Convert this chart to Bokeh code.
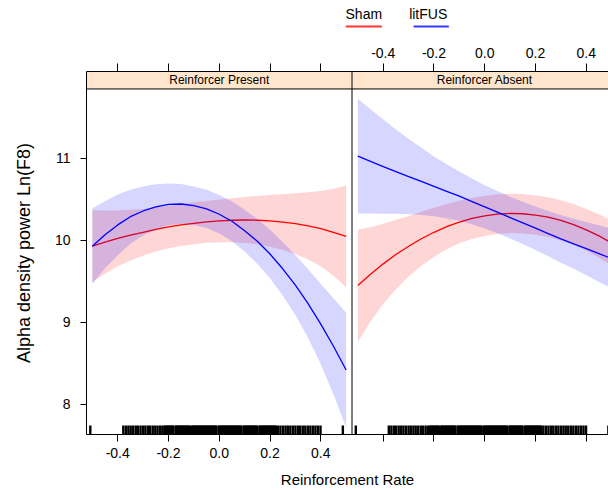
from bokeh.plotting import figure
from bokeh.layouts import column
from bokeh.models import (Range1d, LinearAxis, FixedTicker, CustomJSTickFormatter,
                          Span, BoxAnnotation, Label)
from bokeh.core.properties import value
from bokeh.embed import file_html
from bokeh.resources import INLINE

# ---------------- data ----------------
rate = [-0.5, -0.45, -0.4, -0.35, -0.3, -0.25, -0.2, -0.15, -0.1, -0.05, 0.0,
        0.05, 0.1, 0.15, 0.2, 0.25, 0.3, 0.35, 0.4, 0.45, 0.5]

# Reinforcer Present
present_sham_fit = [9.93, 9.98, 10.025, 10.065, 10.10, 10.135, 10.165, 10.19, 10.21, 10.227, 10.24,
                    10.247, 10.25, 10.247, 10.24, 10.225, 10.205, 10.178, 10.145, 10.10, 10.05]
present_sham_lower = [9.49, 9.595, 9.685, 9.755, 9.815, 9.865, 9.905, 9.934, 9.955, 9.971, 9.98,
                      9.979, 9.97, 9.951, 9.925, 9.885, 9.835, 9.768, 9.685, 9.57, 9.43]
present_sham_upper = [10.37, 10.365, 10.365, 10.375, 10.385, 10.405, 10.425, 10.446, 10.465, 10.483, 10.50,
                      10.515, 10.53, 10.543, 10.555, 10.565, 10.575, 10.588, 10.605, 10.63, 10.67]

present_litfus_fit = [9.93, 10.07, 10.19, 10.29, 10.36, 10.41, 10.44, 10.445, 10.425, 10.385, 10.32,
                      10.235, 10.12, 9.99, 9.835, 9.655, 9.455, 9.23, 8.98, 8.71, 8.42]
present_litfus_lower = [9.47, 9.66, 9.82, 9.96, 10.06, 10.135, 10.185, 10.202, 10.19, 10.152, 10.085,
                        9.992, 9.865, 9.717, 9.54, 9.328, 9.09, 8.81, 8.49, 8.125, 7.72]
present_litfus_upper = [10.39, 10.48, 10.56, 10.62, 10.66, 10.685, 10.695, 10.688, 10.66, 10.618, 10.555,
                        10.478, 10.375, 10.263, 10.13, 9.982, 9.82, 9.65, 9.47, 9.295, 9.12]

# Reinforcer Absent
absent_sham_fit = [9.45, 9.588, 9.715, 9.829, 9.93, 10.021, 10.10, 10.169, 10.225, 10.269, 10.30,
                   10.321, 10.33, 10.326, 10.31, 10.284, 10.245, 10.194, 10.13, 10.056, 9.97]
absent_sham_lower = [8.765, 9.013, 9.225, 9.404, 9.56, 9.691, 9.80, 9.892, 9.965, 10.019, 10.055,
                     10.079, 10.09, 10.086, 10.07, 10.042, 10.0, 9.944, 9.875, 9.793, 9.695]
absent_sham_upper = [10.135, 10.163, 10.205, 10.254, 10.30, 10.351, 10.40, 10.446, 10.485, 10.519, 10.545,
                     10.563, 10.57, 10.566, 10.55, 10.526, 10.49, 10.444, 10.385, 10.319, 10.245]

absent_litfus_fit = [11.03, 10.965, 10.90, 10.84, 10.78, 10.72, 10.66, 10.60, 10.54, 10.475, 10.41,
                     10.345, 10.28, 10.215, 10.15, 10.085, 10.02, 9.96, 9.90, 9.84, 9.78]
absent_litfus_lower = [10.33, 10.33, 10.325, 10.325, 10.32, 10.31, 10.295, 10.27, 10.24, 10.195, 10.145,
                       10.087, 10.025, 9.957, 9.885, 9.809, 9.73, 9.654, 9.575, 9.495, 9.415]
absent_litfus_upper = [11.73, 11.60, 11.475, 11.355, 11.24, 11.13, 11.025, 10.93, 10.84, 10.755, 10.675,
                       10.603, 10.535, 10.473, 10.415, 10.361, 10.31, 10.266, 10.225, 10.185, 10.145]

# observed reinforcement rates (rug)
rug_rate = [
    -0.508,
    -0.378, -0.368, -0.358, -0.349, -0.339, -0.329, -0.320, -0.310, -0.300, -0.291,
    -0.281, -0.272, -0.262, -0.252, -0.243, -0.233, -0.224,
    -0.216, -0.212, -0.207, -0.203, -0.198, -0.194, -0.189, -0.185, -0.181, -0.172,
    -0.168, -0.164, -0.159, -0.155, -0.151, -0.146, -0.142, -0.138, -0.133, -0.129,
    -0.125, -0.120, -0.116, -0.107, -0.103, -0.099, -0.094, -0.090, -0.086, -0.081,
    -0.077, -0.073, -0.068, -0.064, -0.060, -0.055, -0.051, -0.047, -0.042, -0.038,
    -0.034, -0.029, -0.025, -0.021, -0.016, -0.012, -0.003, 0.001, 0.005, 0.010,
    0.014, 0.018, 0.023, 0.027, 0.031, 0.036, 0.040, 0.044, 0.049, 0.053,
    0.057, 0.062, 0.066, 0.070, 0.075, 0.079, 0.083, 0.088, 0.097, 0.101,
    0.105, 0.110, 0.114, 0.118, 0.123, 0.127, 0.131, 0.136, 0.140, 0.144,
    0.149, 0.158, 0.162, 0.166, 0.171, 0.175, 0.179, 0.184, 0.188, 0.192,
    0.197, 0.201, 0.205, 0.210, 0.214, 0.218, 0.223,
    0.231, 0.241, 0.251, 0.261, 0.270, 0.280, 0.290, 0.300, 0.310, 0.319,
    0.329, 0.339, 0.349, 0.359, 0.369, 0.379, 0.389, 0.399,
    0.487,
]

x_tick_values = [-0.4, -0.2, 0.0, 0.2, 0.4]
y_tick_values = [8, 9, 10, 11]
panel_labels = ["Reinforcer Present", "Reinforcer Absent"]
group_labels = ["Sham", "litFUS"]
group_colors = ["red", "blue"]

# ---------------- layout constants ----------------
FONT = "Liberation Sans"
W = 608
LEG_H = 40
H = 490 - LEG_H
BORDER_L, BORDER_T, BORDER_B = 86, 71 - LEG_H, 56
FRAME_W = W - BORDER_L
PANEL_W = 265.5                 # pixel width of one lattice panel
HALF = 0.523                    # half width of a panel in data units
SHIFT = 2 * HALF                # offset between panels
X0 = -HALF
X1 = X0 + 2 * HALF * FRAME_W / PANEL_W
Y0, Y1 = 7.634, 12.061
STRIP_BOTTOM = 11.848
RUG_H = 0.11

# ---------------- legend strip (lattice key: line under text) ----------------
leg = figure(width=W, height=LEG_H, output_backend="svg", toolbar_location=None,
             x_range=Range1d(0, W), y_range=Range1d(LEG_H, 0),
             x_axis_type=None, y_axis_type=None, min_border=0,
             outline_line_color=None, background_fill_color="white",
             border_fill_color="white")
leg_text_x = [323, 398]
leg_line_x0 = [302, 381]
leg_line_x1 = [344, 422]
leg.text(x=leg_text_x, y=[13, 13], text=group_labels, text_align="center",
         text_baseline="middle", text_font=value(FONT), text_font_size="14px",
         text_color="black")
leg.segment(x0=leg_line_x0, x1=leg_line_x1, y0=[26, 26], y1=[26, 26],
            line_color=group_colors, line_width=1.8, line_alpha=0.8)

# ---------------- main lattice figure ----------------
p = figure(width=W, height=H, output_backend="svg", toolbar_location=None,
           x_range=Range1d(X0, X1), y_range=Range1d(Y0, Y1),
           x_axis_type=None, y_axis_type=None,
           min_border_left=BORDER_L, min_border_right=0,
           min_border_top=BORDER_T, min_border_bottom=BORDER_B,
           outline_line_color=None, background_fill_color="white",
           border_fill_color="white")
p.extra_x_ranges = {"absent": Range1d(X0 - SHIFT, X1 - SHIFT)}

# strip
p.add_layout(BoxAnnotation(bottom=STRIP_BOTTOM, fill_color="#FFE5CC", fill_alpha=1.0,
                           line_alpha=0, level="underlay"))
p.add_layout(Span(location=STRIP_BOTTOM, dimension="width", line_color="black", line_width=1))
p.add_layout(Span(location=HALF, dimension="height", line_color="black", line_width=1))
strip_mid = (STRIP_BOTTOM + Y1) / 2
p.add_layout(Label(x=0, y=strip_mid, text=panel_labels[0], text_align="center",
                   text_baseline="middle", text_font=FONT, text_font_size="12px",
                   text_color="black"))
p.add_layout(Label(x=0, y=strip_mid, x_range_name="absent", text=panel_labels[1],
                   text_align="center", text_baseline="middle", text_font=FONT,
                   text_font_size="12px", text_color="black"))

panels = [
    ("default", [(present_sham_lower, present_sham_upper, present_sham_fit),
                 (present_litfus_lower, present_litfus_upper, present_litfus_fit)]),
    ("absent", [(absent_sham_lower, absent_sham_upper, absent_sham_fit),
                (absent_litfus_lower, absent_litfus_upper, absent_litfus_fit)]),
]
for rname, groups in panels:
    for (lo, hi, fit), col in zip(groups, group_colors):
        p.varea(x=rate, y1=lo, y2=hi, fill_color=col, fill_alpha=0.16, x_range_name=rname)
        p.line(x=rate, y=fit, line_color=col, line_width=1.3, x_range_name=rname)
    p.segment(x0=rug_rate, x1=rug_rate, y0=[Y0] * len(rug_rate),
              y1=[Y0 + RUG_H] * len(rug_rate), line_color="black", line_width=2.4,
              line_cap="butt", x_range_name=rname)

def style_axis(ax, tick_len):
    ax.axis_line_color = "black"
    ax.major_tick_line_color = "black"
    ax.major_tick_out = tick_len
    ax.major_tick_in = 0
    ax.minor_tick_out = 0
    ax.minor_tick_in = 0
    ax.major_label_text_font = FONT
    ax.major_label_text_font_size = "14px"
    ax.major_label_text_color = "black"
    ax.axis_label_text_font = FONT
    ax.axis_label_text_font_style = "normal"
    ax.axis_label_text_color = "black"

# left axis
yax = LinearAxis(ticker=FixedTicker(ticks=y_tick_values),
                 axis_label="Alpha density power Ln(F8)")
style_axis(yax, 6)
yax.major_label_standoff = 10
yax.axis_label_standoff = 18
yax.axis_label_text_font_size = "18px"
p.add_layout(yax, "left")

# bottom axis: labels for the left panel only
bottom_ticks = x_tick_values + [t + SHIFT for t in x_tick_values]
bax = LinearAxis(ticker=FixedTicker(ticks=bottom_ticks),
                 formatter=CustomJSTickFormatter(args=dict(limit=HALF),
                                                 code="return tick > limit ? '' : tick.toFixed(1);"),
                 axis_label="Reinforcement Rate")
style_axis(bax, 7)
bax.major_label_standoff = 6
bax.axis_label_standoff = 10
bax.axis_label_text_font_size = "15px"
p.add_layout(bax, "below")

# top axis: labels for the right panel only
top_ticks = [t - SHIFT for t in x_tick_values] + x_tick_values
tax = LinearAxis(x_range_name="absent", ticker=FixedTicker(ticks=top_ticks),
                 formatter=CustomJSTickFormatter(args=dict(limit=-HALF),
                                                 code="return tick < limit ? '' : tick.toFixed(1);"))
style_axis(tax, 8)
tax.major_label_standoff = 6
p.add_layout(tax, "above")

layout = column(leg, p, spacing=0)
open("out.html", "w").write(file_html(layout, INLINE))
